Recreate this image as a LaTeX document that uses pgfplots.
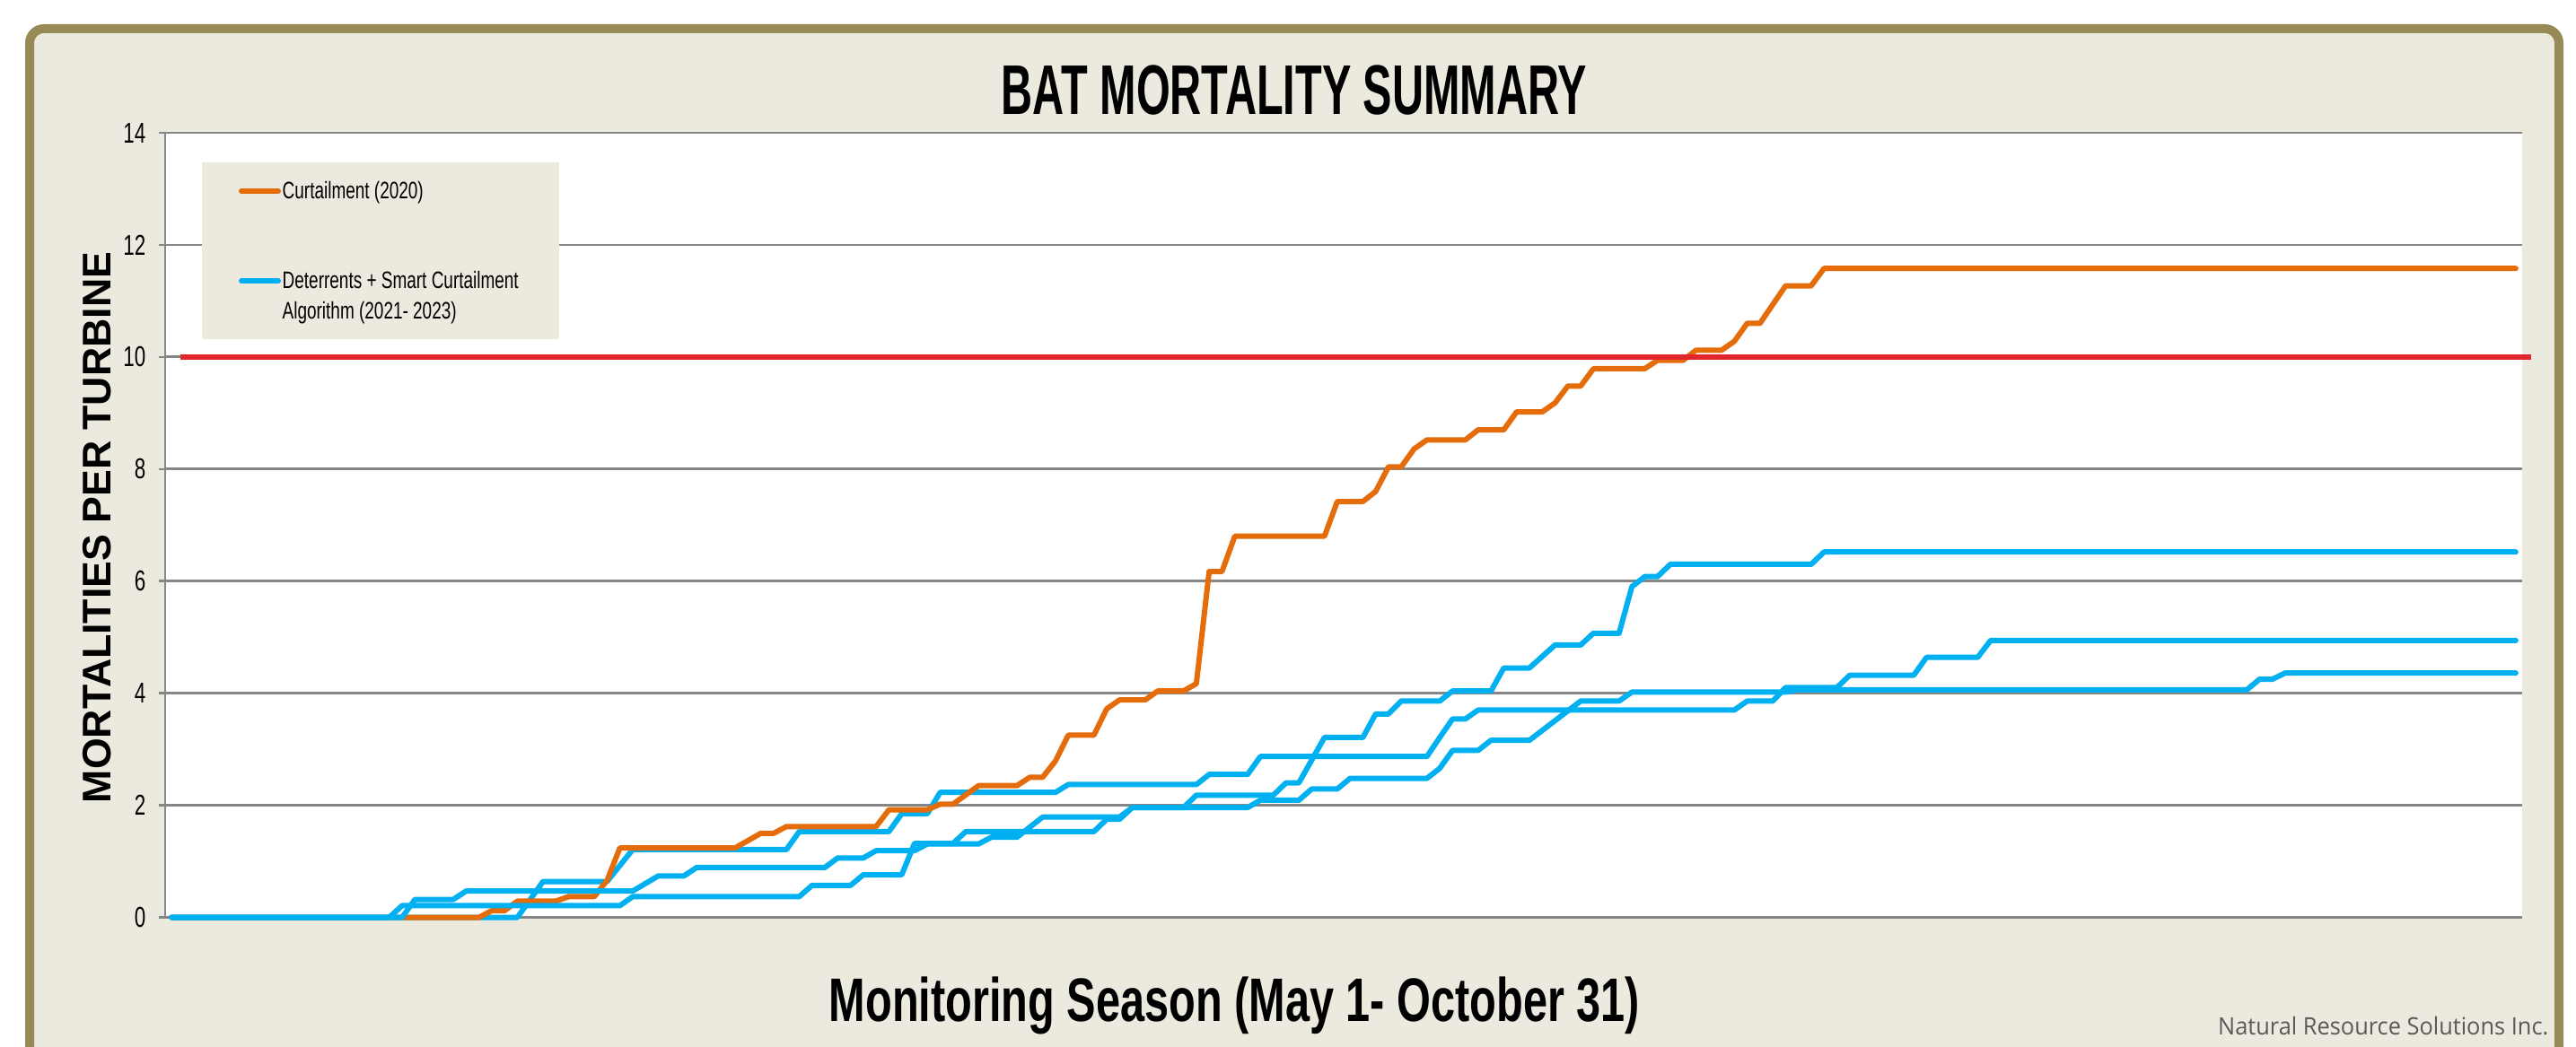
\documentclass[border=0pt]{standalone}
\usepackage{fontspec}
\setmainfont{Liberation Sans}
\usepackage{pgfplots}
\pgfplotsset{compat=1.18}
\newfontfamily\tickfont[FakeStretch=0.70]{Liberation Sans}
\newfontfamily\titlefont[FakeStretch=0.62]{Liberation Sans}
\newfontfamily\xtitlefont[FakeStretch=0.71]{Liberation Sans}
\newfontfamily\legfont[FakeStretch=0.715]{Liberation Sans}
\newfontfamily\nrsfont[FakeStretch=0.95]{Open Sans}
\definecolor{bgc}{RGB}{236,233,222}
\definecolor{framec}{RGB}{151,138,86}
\definecolor{gridc}{RGB}{134,134,134}
\definecolor{orangec}{RGB}{228,108,10}
\definecolor{bluec}{RGB}{0,176,240}
\definecolor{redc}{RGB}{226,38,44}
\definecolor{nrsc}{RGB}{89,89,89}

\pgfplotstableread{
day val
0 0
24 0
25 0.12
26 0.12
27 0.29
30 0.29
31 0.37
33 0.37
34 0.66
35 1.24
44 1.24
46 1.50
47 1.50
48 1.62
55 1.62
56 1.92
59 1.92
60 2.02
61 2.02
63 2.35
66 2.35
67 2.50
68 2.50
69 2.79
70 3.25
72 3.25
73 3.72
74 3.88
76 3.88
77 4.04
79 4.04
80 4.17
81 6.17
82 6.17
83 6.80
90 6.80
91 7.42
93 7.42
94 7.60
95 8.04
96 8.04
97 8.36
98 8.52
101 8.52
102 8.70
104 8.70
105 9.02
107 9.02
108 9.18
109 9.48
110 9.48
111 9.79
115 9.79
116 9.94
118 9.94
119 10.12
121 10.12
122 10.28
123 10.60
124 10.60
126 11.27
128 11.27
129 11.58
183 11.58
}\curtail

\pgfplotstableread{
day val
0 0
17 0
18 0.21
35 0.21
36 0.37
49 0.37
50 0.57
53 0.57
54 0.76
57 0.76
58 1.32
61 1.32
62 1.53
72 1.53
73 1.75
74 1.75
75 1.96
79 1.96
80 2.18
86 2.18
87 2.40
88 2.40
90 3.21
93 3.21
94 3.63
95 3.63
96 3.86
99 3.86
100 4.04
103 4.04
104 4.45
106 4.45
108 4.86
110 4.86
111 5.07
113 5.07
114 5.90
115 6.08
116 6.08
117 6.30
128 6.30
129 6.52
183 6.52
}\yra

\pgfplotstableread{
day val
0 0
18 0
19 0.32
22 0.32
23 0.47
36 0.47
38 0.74
40 0.74
41 0.89
51 0.89
52 1.06
54 1.06
55 1.19
58 1.19
59 1.31
63 1.31
64 1.43
66 1.43
68 1.79
74 1.79
75 1.96
84 1.96
85 2.09
88 2.09
89 2.29
91 2.29
92 2.48
98 2.48
99 2.66
100 2.98
102 2.98
103 3.16
106 3.16
110 3.86
113 3.86
114 4.02
126 4.02
127 4.06
162 4.06
163 4.25
164 4.25
165 4.36
183 4.36
}\yrb

\pgfplotstableread{
day val
0 0
27 0
29 0.64
34 0.64
36 1.21
48 1.21
49 1.53
56 1.53
57 1.85
59 1.85
60 2.23
69 2.23
70 2.37
80 2.37
81 2.55
84 2.55
85 2.87
98 2.87
99 3.21
100 3.54
101 3.54
102 3.70
122 3.70
123 3.86
125 3.86
126 4.10
130 4.10
131 4.32
136 4.32
137 4.64
141 4.64
142 4.94
183 4.94
}\yrc

\pgfplotstableread{
day val
0.7 10
184.2 10
}\threshold

\begin{document}
\begin{tikzpicture}
\path[use as bounding box] (0,0) rectangle (287mm,-116.7mm);
\fill[white] (0,0) rectangle (287mm,-116.7mm);
\draw[framec, line width=1mm, fill=bgc, rounded corners=1.6mm] (3.3mm,-3.2mm) rectangle (285.1mm,-125mm);

\begin{axis}[
  at={(18.4mm,-102.25mm)}, anchor=south west,
  scale only axis, width=262.6mm, height=87.45mm,
  xmin=-0.5, xmax=183.5, ymin=0, ymax=14,
  ytick={0,2,...,14}, xtick=\empty,
  axis x line=none, axis y line*=left,
  axis line style={draw=gridc, line width=0.25mm},
  tick style={draw=gridc, line width=0.25mm},
  major tick length=0.7mm, tick align=outside,
  ymajorgrids, grid style={draw=gridc, line width=0.28mm},
  axis background/.style={fill=white},
  /pgf/number format/assume math mode=true,
  yticklabel style={font=\fontsize{9.1}{10}\tickfont, anchor=east, inner sep=0pt, xshift=-1.4mm},
  clip=false,
  every axis plot/.append style={line width=0.6mm, line join=round, line cap=round},
]
\addplot[bluec] table[x=day,y=val] {\yrc};
\addplot[orangec] table[x=day,y=val] {\curtail};
\addplot[bluec] table[x=day,y=val] {\yra};
\addplot[bluec] table[x=day,y=val] {\yrb};
\addplot[redc, line width=0.65mm, line cap=butt] table[x=day,y=val] {\threshold};
\end{axis}

% legend
\fill[bgc] (22.5mm,-18.1mm) rectangle (62.3mm,-37.8mm);
\draw[orangec, line width=0.6mm, line cap=round] (26.9mm,-21.3mm) -- (31.0mm,-21.3mm);
\draw[bluec, line width=0.6mm, line cap=round] (26.9mm,-31.3mm) -- (31.0mm,-31.3mm);
\node[anchor=base west, inner sep=0pt, font=\fontsize{7.55}{9}\legfont] at (31.4mm,-22.2mm) {Curtailment (2020)};
\node[anchor=base west, inner sep=0pt, font=\fontsize{7.55}{9}\legfont] at (31.4mm,-32.2mm) {Deterrents + Smart Curtailment};
\node[anchor=base west, inner sep=0pt, font=\fontsize{7.55}{9}\legfont] at (31.4mm,-35.6mm) {Algorithm (2021- 2023)};

% titles
\node[inner sep=0pt, font=\fontsize{22.3}{26}\titlefont\bfseries] at (144.2mm,-10.1mm) {BAT MORTALITY SUMMARY};
\node[anchor=base, inner sep=0pt, font=\fontsize{19.5}{23}\xtitlefont\bfseries] at (137.55mm,-113.8mm) {Monitoring Season (May 1- October 31)};
\node[rotate=90, inner sep=0pt, font=\fontsize{12.7}{15}\selectfont\bfseries] at (10.8mm,-58.8mm) {MORTALITIES PER TURBINE};
\node[anchor=base east, inner sep=0pt, text=nrsc, font=\fontsize{7.6}{9}\nrsfont] at (284.0mm,-115.3mm) {Natural Resource Solutions Inc.};
\end{tikzpicture}
\end{document}
